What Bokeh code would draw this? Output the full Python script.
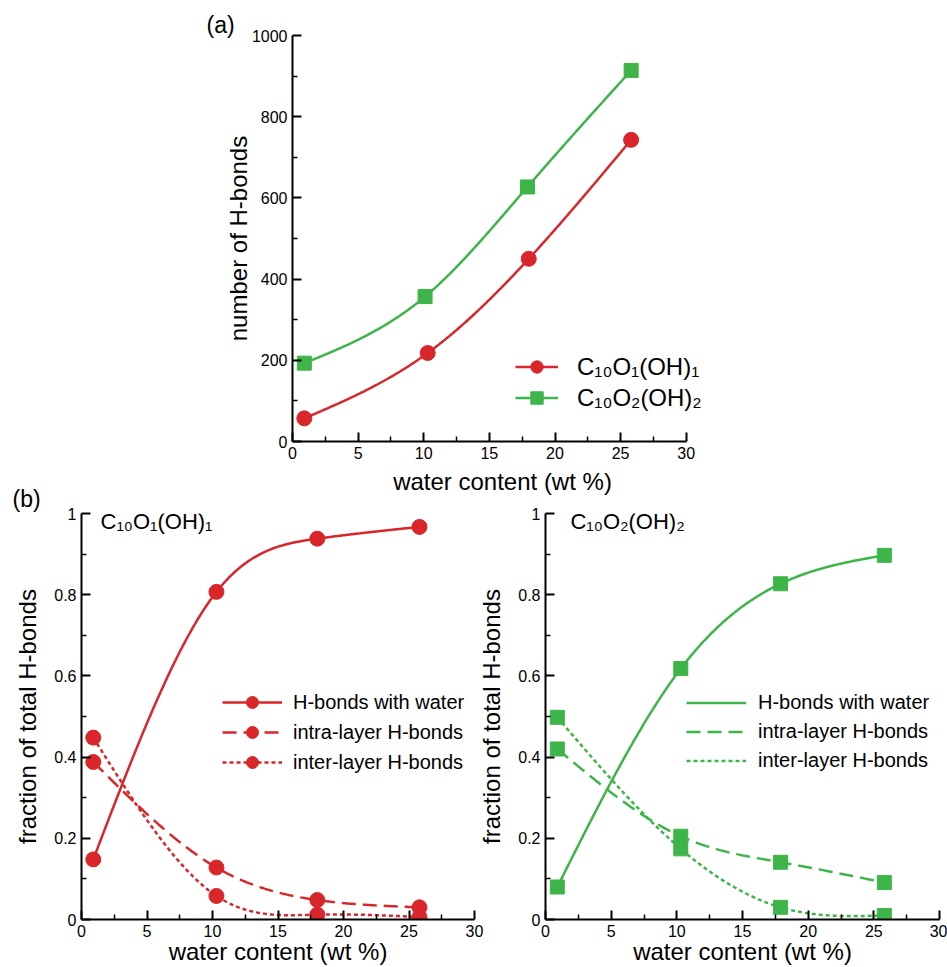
import numpy as np
from bokeh.plotting import figure
from bokeh.layouts import column, row
from bokeh.models import Range1d, FixedTicker, Label, Legend, LegendItem
from bokeh.embed import file_html
from bokeh.resources import INLINE

RED = "#d9262b"
GREEN = "#3eb549"
FONT = "Liberation Sans"

# ---------------- data ----------------
# panel (a): number of H-bonds vs water content
a_x_c1 = [0.9, 10.3, 18.0, 25.8]
a_y_c1 = [57, 218, 450, 743]
a_x_c2 = [0.9, 10.1, 17.9, 25.8]
a_y_c2 = [193, 357, 627, 914]

# panel (b) left: C10O1(OH)1 fractions
b1_x = [0.9, 10.3, 18.0, 25.8]
b1_water = [0.148, 0.807, 0.938, 0.967]
b1_intra = [0.388, 0.128, 0.048, 0.030]
b1_inter = [0.448, 0.058, 0.012, 0.006]

# panel (b) right: C10O2(OH)2 fractions
b2_x = [0.9, 10.3, 17.9, 25.8]
b2_water = [0.080, 0.618, 0.827, 0.897]
b2_intra = [0.420, 0.205, 0.141, 0.091]
b2_inter = [0.498, 0.174, 0.030, 0.010]

name_c1 = "C\u2081\u2080O\u2081(OH)\u2081"
name_c2 = "C\u2081\u2080O\u2082(OH)\u2082"
series_labels = ["H-bonds with water", "intra-layer H-bonds", "inter-layer H-bonds"]

x_ticks = [0, 5, 10, 15, 20, 25, 30]
x_minor = [2.5, 7.5, 12.5, 17.5, 22.5, 27.5]
a_y_ticks = [0, 200, 400, 600, 800, 1000]
a_y_minor = [100, 300, 500, 700, 900]
b_y_ticks = [0, 0.2, 0.4, 0.6, 0.8, 1.0]
b_y_minor = [0.1, 0.3, 0.5, 0.7, 0.9]
b_y_labels = ["0", "0.2", "0.4", "0.6", "0.8", "1"]


def natural_spline(x, y, n=240):
    x = np.asarray(x, float)
    y = np.asarray(y, float)
    k = len(x)
    h = np.diff(x)
    A = np.zeros((k, k))
    r = np.zeros(k)
    A[0, 0] = A[-1, -1] = 1.0
    for i in range(1, k - 1):
        A[i, i - 1] = h[i - 1]
        A[i, i] = 2 * (h[i - 1] + h[i])
        A[i, i + 1] = h[i]
        r[i] = 6 * ((y[i + 1] - y[i]) / h[i] - (y[i] - y[i - 1]) / h[i - 1])
    M = np.linalg.solve(A, r)
    xs = np.linspace(x[0], x[-1], n)
    idx = np.clip(np.searchsorted(x, xs) - 1, 0, k - 2)
    xi, xi1, hi = x[idx], x[idx + 1], h[idx]
    ys = (M[idx] * (xi1 - xs) ** 3 / (6 * hi) + M[idx + 1] * (xs - xi) ** 3 / (6 * hi)
          + (y[idx] / hi - M[idx] * hi / 6) * (xi1 - xs)
          + (y[idx + 1] / hi - M[idx + 1] * hi / 6) * (xs - xi))
    return xs, ys


def make_fig(width, height, bl, br, bt, bb, x_end, y_end, yticks, yminor, yover=None):
    p = figure(width=width, height=height, x_range=Range1d(0, x_end), y_range=Range1d(0, y_end),
               output_backend="svg", toolbar_location=None,
               min_border_left=bl, min_border_right=br, min_border_top=bt, min_border_bottom=bb,
               x_axis_label="water content (wt %)")
    p.outline_line_color = None
    p.grid.visible = False
    p.background_fill_color = None
    p.border_fill_color = None
    p.xaxis.ticker = FixedTicker(ticks=x_ticks, minor_ticks=x_minor)
    p.yaxis.ticker = FixedTicker(ticks=yticks, minor_ticks=yminor)
    p.xaxis.bounds = (0, 30)
    if yover:
        p.yaxis.major_label_overrides = yover
    for ax in (p.xaxis[0], p.yaxis[0]):
        ax.axis_line_width = 2
        ax.axis_line_color = "black"
        ax.major_tick_in = 9
        ax.major_tick_out = 0
        ax.minor_tick_in = 5
        ax.minor_tick_out = 0
        ax.major_tick_line_width = 2
        ax.minor_tick_line_width = 1.5
        ax.major_tick_line_color = "black"
        ax.minor_tick_line_color = "black"
        ax.major_label_text_font = FONT
        ax.major_label_text_font_size = "16px"
        ax.major_label_text_color = "black"
        ax.major_label_standoff = 5
        ax.axis_label_text_font = FONT
        ax.axis_label_text_font_size = "24px"
        ax.axis_label_text_font_style = "normal"
        ax.axis_label_text_color = "black"
    p.title.text_font = FONT
    p.title.text_font_size = "23px"
    p.title.text_font_style = "normal"
    p.title.text_color = "black"
    p.title.align = "left"
    return p


def style_legend(lg, gw, gh, sp, standoff, fs):
    lg.glyph_width = gw
    lg.glyph_height = gh
    lg.spacing = sp
    lg.label_standoff = standoff
    lg.padding = 0
    lg.margin = 0
    lg.border_line_color = None
    lg.background_fill_alpha = 0
    lg.label_text_font = FONT
    lg.label_text_font_size = fs
    lg.label_text_color = "black"


# ---------------- panel (a) ----------------
pa = make_fig(939, 512, 292, 227, 35, 71, 32, 1000, a_y_ticks, a_y_minor)
pa.yaxis.axis_label = "number of H-bonds"
pa.yaxis.axis_label_standoff = -3
pa.xaxis.axis_label_standoff = 6
pa.title.text = "(a)"
pa.title.offset = -86
pa.title.standoff = -4

xs, ys = natural_spline(a_x_c1, a_y_c1)
la1 = pa.line(xs, ys, line_color=RED, line_width=2.5)
sa1 = pa.scatter(a_x_c1, a_y_c1, marker="circle", size=15, color=RED)
xs, ys = natural_spline(a_x_c2, a_y_c2)
la2 = pa.line(xs, ys, line_color=GREEN, line_width=2.5)
sa2 = pa.scatter(a_x_c2, a_y_c2, marker="square", size=14, color=GREEN)

lega = Legend(items=[LegendItem(label=name_c1, renderers=[la1, sa1]),
                     LegendItem(label=name_c2, renderers=[la2, sa2])],
              location=(223, 28))
style_legend(lega, 43, 31, 0, 19, "24px")
pa.add_layout(lega)

# ---------------- panel (b) left ----------------
yover = {t: s for t, s in zip(b_y_ticks, b_y_labels)}
pb1 = make_fig(494, 486, 81, 20, 32, 48, 30, 1.0, b_y_ticks, b_y_minor, yover)
pb1.yaxis.axis_label = "fraction of total H-bonds"
pb1.yaxis.axis_label_standoff = 10
pb1.xaxis.axis_label_standoff = -2
pb1.margin = (-31, 0, 0, 0)
pb1.title.text = "(b)"
pb1.title.offset = -69
pb1.title.standoff = 3

dashes = ["solid", "14 7", "4 3"]
items = []
for vals, dash, lab in zip([b1_water, b1_intra, b1_inter], dashes, series_labels):
    xs, ys = natural_spline(b1_x, vals)
    ln = pb1.line(xs, ys, line_color=RED, line_width=2.5, line_dash=dash)
    sc = pb1.scatter(b1_x, vals, marker="circle", size=15, color=RED)
    items.append(LegendItem(label=lab, renderers=[ln, sc]))
legb1 = Legend(items=items, location=(141, 142))
style_legend(legb1, 60, 30, 0, 11, "20px")
pb1.add_layout(legb1)
pb1.add_layout(Label(x=1.45, y=0.98, text=name_c1, text_font=FONT, text_font_size="22px",
                     text_align="left", text_baseline="middle", text_color="black"))

# ---------------- panel (b) right ----------------
pb2 = make_fig(482, 486, 80, 8, 32, 48, 30, 1.0, b_y_ticks, b_y_minor, yover)
pb2.yaxis.axis_label = "fraction of total H-bonds"
pb2.yaxis.axis_label_standoff = 10
pb2.xaxis.axis_label_standoff = -2
pb2.margin = (-31, 0, 0, -29)

items = []
for vals, dash, lab in zip([b2_water, b2_intra, b2_inter], dashes, series_labels):
    xs, ys = natural_spline(b2_x, vals)
    ln = pb2.line(xs, ys, line_color=GREEN, line_width=2.5, line_dash=dash)
    pb2.scatter(b2_x, vals, marker="square", size=14, color=GREEN)
    items.append(LegendItem(label=lab, renderers=[ln]))
legb2 = Legend(items=items, location=(141, 146))
style_legend(legb2, 60, 25, 4, 12, "20px")
pb2.add_layout(legb2)
pb2.add_layout(Label(x=1.9, y=0.98, text=name_c2, text_font=FONT, text_font_size="22px",
                     text_align="left", text_baseline="middle", text_color="black"))

layout = column(pa, row(pb1, pb2))
open("out.html", "w").write(file_html(layout, INLINE))
